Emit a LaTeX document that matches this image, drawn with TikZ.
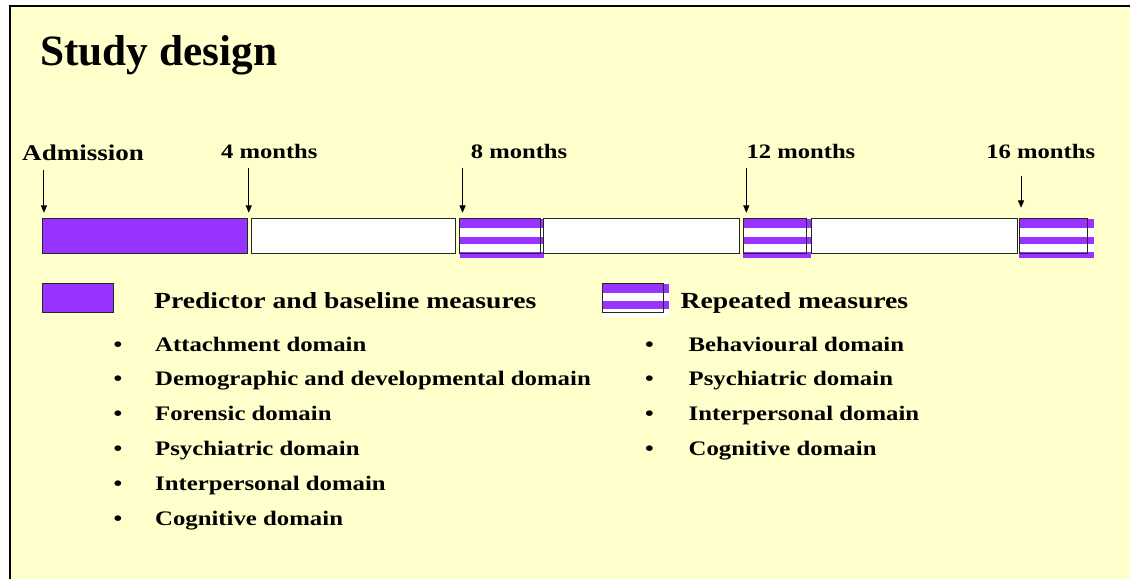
\documentclass[tikz,border=0pt]{standalone}
\usepackage{fontspec}
\setmainfont{Liberation Serif}
\newfontfamily\slidefont{Liberation Serif}[FakeStretch=1.2]
\usetikzlibrary{arrows.meta,fit}
\definecolor{bgyellow}{HTML}{FFFFCC}
\definecolor{purp}{HTML}{9933FF}
\begin{document}
\begin{tikzpicture}[x=0.75pt,y=-0.75pt,
  titletext/.style={anchor=base west, inner sep=0pt, font=\bfseries\fontsize{32.5}{40}\selectfont},
  timelbl/.style={anchor=base west, inner sep=0pt, font=\slidefont\bfseries\fontsize{15.4}{18}\selectfont},
  admlbl/.style={anchor=base west, inner sep=0pt, font=\slidefont\bfseries\fontsize{16.9}{20}\selectfont},
  legtext/.style={anchor=base west, inner sep=0pt, font=\slidefont\bfseries\fontsize{17.3}{20}\selectfont},
  itemtext/.style={anchor=base west, inner sep=0pt, font=\slidefont\bfseries\fontsize{15.5}{18}\selectfont},
  bul/.style={anchor=base, inner sep=0pt, font=\slidefont\bfseries\fontsize{15.5}{18}\selectfont},
  bar/.style={draw=black!85, line width=0.75pt, inner sep=0pt, outer sep=0pt},
  tick/.style={draw=black, line width=0.75pt, -{Triangle[length=5.5pt,width=4.5pt]}},
  stripe/.style={fill=white, draw=none}
]
% background and frame
\path[fill=white] (0,0) rectangle (1131,580);
\path[fill=bgyellow] (10,6) rectangle (1131,580);
\draw[line width=1.6pt] (10,580) -- (10,6) -- (1131,6);

% title
\node[titletext] (title) at (40,66) {Study design};

% time labels
\node[admlbl] (l0) at (22,161) {Admission};
\node[timelbl] (l4) at (221,159) {4 months};
\node[timelbl] (l8) at (471,159) {8 months};
\node[timelbl] (l12) at (747,159) {12 months};
\node[timelbl] (l16) at (987,159) {16 months};

% timeline boxes
\node[bar, fill=purp, fit={(43,219)(248,254)}] (b1) {};
\node[bar, fill=white, fit={(252,219)(456,254)}] (b2) {};
% striped 8 months
\path[fill=purp] (460,219) rectangle (545,258);
\path[stripe] (460,228.5) rectangle (545,237);
\path[stripe] (460,244.5) rectangle (545,252.5);
\node[bar, fit={(460,219)(541,254)}] (b3) {};
\node[bar, fill=white, fit={(544,219)(740,254)}] (b4) {};
% striped 12 months
\path[fill=purp] (744,219) rectangle (812,258);
\path[stripe] (744,228.5) rectangle (812,237);
\path[stripe] (744,244.5) rectangle (812,252.5);
\node[bar, fit={(744,219)(807,254)}] (b5) {};
\node[bar, fill=white, fit={(812,219)(1018,254)}] (b6) {};
% striped 16 months
\path[fill=purp] (1020,219) rectangle (1095,258);
\path[stripe] (1020,228.5) rectangle (1095,237);
\path[stripe] (1020,244.5) rectangle (1095,252.5);
\node[bar, fit={(1020,219)(1089,254)}] (b7) {};

% arrows
\coordinate (s0) at (44,170);  \coordinate (t0) at (44,213);
\coordinate (s4) at (249,168); \coordinate (t4) at (249,213);
\coordinate (s8) at (463,168); \coordinate (t8) at (463,213);
\coordinate (s12) at (747,168); \coordinate (t12) at (747,213);
\coordinate (s16) at (1022,176); \coordinate (t16) at (1022,208);
\draw[tick] (s0) -- (t0);
\draw[tick] (s4) -- (t4);
\draw[tick] (s8) -- (t8);
\draw[tick] (s12) -- (t12);
\draw[tick] (s16) -- (t16);

% legend
\node[bar, fill=purp, fit={(43,284)(114,313)}] (legA) {};
\node[legtext] (legAt) at (154,309) {Predictor and baseline measures};
\path[fill=purp] (603,284) rectangle (670,317);
\path[stripe] (603,293) rectangle (670,301);
\path[stripe] (603,309) rectangle (670,317);
\node[bar, fit={(603,284)(664,313)}] (legB) {};
\node[legtext] (legBt) at (681,309) {Repeated measures};

% left list
\node[bul] (lb1) at (118,352) {•}; \node[itemtext] (li1) at (155,352) {Attachment domain};
\node[bul] (lb2) at (118,386) {•}; \node[itemtext] (li2) at (155,386) {Demographic and developmental domain};
\node[bul] (lb3) at (118,421) {•}; \node[itemtext] (li3) at (155,421) {Forensic domain};
\node[bul] (lb4) at (118,456) {•}; \node[itemtext] (li4) at (155,456) {Psychiatric domain};
\node[bul] (lb5) at (118,491) {•}; \node[itemtext] (li5) at (155,491) {Interpersonal domain};
\node[bul] (lb6) at (118,526) {•}; \node[itemtext] (li6) at (155,526) {Cognitive domain};

% right list
\node[bul] (rb1) at (650,352) {•}; \node[itemtext] (ri1) at (689,352) {Behavioural domain};
\node[bul] (rb2) at (650,386) {•}; \node[itemtext] (ri2) at (689,386) {Psychiatric domain};
\node[bul] (rb3) at (650,421) {•}; \node[itemtext] (ri3) at (689,421) {Interpersonal domain};
\node[bul] (rb4) at (650,456) {•}; \node[itemtext] (ri4) at (689,456) {Cognitive domain};
\end{tikzpicture}
\end{document}
